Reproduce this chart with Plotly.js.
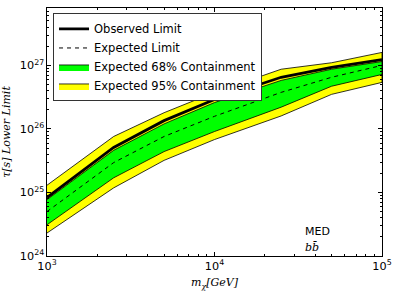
<!DOCTYPE html>
<html>
<head>
<meta charset="utf-8">
<script src="https://cdn.plot.ly/plotly-3.0.1.min.js"></script>
<style>html,body{margin:0;padding:0;background:#fff;}#chart{width:399px;height:299px;}</style>
</head>
<body>
<div id="chart"></div>
<script>
// Dark matter mass (GeV)
const masses = [1000, 2500, 5000, 10000, 25000, 50000, 100000];
// Lifetime lower limits (s)
const observed   = [8.3e24, 5.1e25, 1.35e26, 2.9e26, 6.5e26, 9.3e26, 1.23e27];
const expected   = [5.0e24, 2.95e25, 7.6e25, 1.58e26, 3.76e26, 6.5e26, 1.0e27];
const up68       = [7.7e24, 4.6e25, 1.2e26, 2.6e26, 5.8e26, 8.7e26, 1.15e27];
const low68      = [3.1e24, 1.7e25, 4.4e25, 9.1e25, 2.2e26, 4.7e26, 7.2e26];
const up95       = [1.3e25, 7.6e25, 1.8e26, 3.76e26, 8.7e26, 1.1e27, 1.6e27];
const low95      = [2.3e24, 1.18e25, 3.2e25, 6.8e25, 1.6e26, 3.5e26, 5.4e26];
const seriesNames = ["Observed Limit", "Expected Limit", "Expected 68% Containment", "Expected 95% Containment"];

function band(upper, lower) {
  return {
    x: masses.concat(masses.slice().reverse()),
    y: upper.concat(lower.slice().reverse())
  };
}
const b95 = band(up95, low95);
const b68 = band(up68, low68);

const traces = [
  {x: b95.x, y: b95.y, type: 'scatter', mode: 'lines', fill: 'toself', fillcolor: '#ffff00',
   line: {color: 'black', width: 0.8}, name: seriesNames[3], legendrank: 4, hoverinfo: 'skip'},
  {x: b68.x, y: b68.y, type: 'scatter', mode: 'lines', fill: 'toself', fillcolor: '#00ff00',
   line: {color: 'black', width: 0.8}, name: seriesNames[2], legendrank: 3, hoverinfo: 'skip'},
  {x: masses, y: expected, type: 'scatter', mode: 'lines',
   line: {color: 'black', width: 1, dash: '4px,4px'}, name: seriesNames[1], legendrank: 2},
  {x: masses, y: observed, type: 'scatter', mode: 'lines',
   line: {color: 'black', width: 2.8}, name: seriesNames[0], legendrank: 1}
];

const axisCommon = {
  type: 'log', showgrid: false, zeroline: false, showline: true, linecolor: 'black', linewidth: 1,
  mirror: 'allticks', ticks: 'inside', ticklen: 4, tickcolor: 'black', tickwidth: 1,
  exponentformat: 'power', dtick: 1,
  minor: {ticks: 'inside', ticklen: 2, tickcolor: 'black', dtick: 'D1', showgrid: false},
  tickfont: {family: 'DejaVu Sans', size: 9, color: 'black'}
};

const layout = {
  width: 399, height: 299,
  margin: {l: 47, r: 17, t: 8, b: 43},
  paper_bgcolor: 'white', plot_bgcolor: 'white',
  font: {family: 'DejaVu Sans', color: 'black'},
  showlegend: true,
  legend: {x: 0.018, y: 0.978, xanchor: 'left', yanchor: 'top', bgcolor: 'white',
           bordercolor: '#333', borderwidth: 1, font: {family: 'DejaVu Sans', size: 11.5},
           traceorder: 'normal', itemwidth: 30, tracegroupgap: 0},
  xaxis: Object.assign({}, axisCommon, {
    range: [3, 5],
    title: {text: '<i>m<sub>χ</sub>[GeV]</i>', font: {family: 'DejaVu Serif', size: 11}, standoff: 6}
  }),
  yaxis: Object.assign({}, axisCommon, {
    range: [24, Math.log10(8e27)],
    title: {text: '<i>τ[s] Lower Limit</i>', font: {family: 'DejaVu Serif', size: 11}, standoff: 10}
  }),
  annotations: [
    {xref: 'paper', yref: 'paper', x: 0.765, y: 0.063, xanchor: 'left', yanchor: 'bottom', showarrow: false,
     text: 'MED', font: {family: 'DejaVu Sans', size: 11, color: 'black'}},
    {xref: 'paper', yref: 'paper', x: 0.765, y: 0.068, xanchor: 'left', yanchor: 'top', showarrow: false,
     text: '<i>bb̄</i>', font: {family: 'DejaVu Serif', size: 11, color: 'black'}}
  ]
};

Plotly.newPlot('chart', traces, layout, {staticPlot: true, displayModeBar: false});
</script>
</body>
</html>
